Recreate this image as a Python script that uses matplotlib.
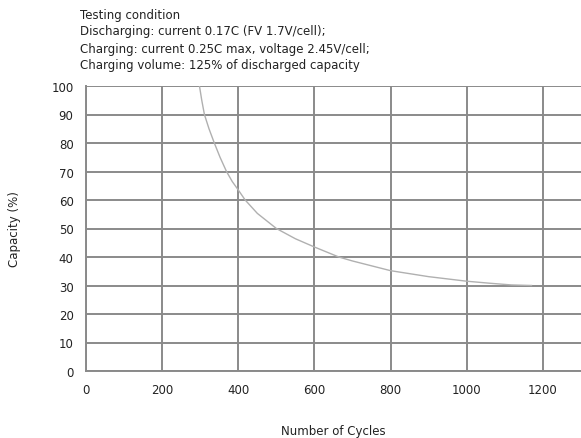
import matplotlib
matplotlib.use("Agg")
import matplotlib.pyplot as plt
import numpy as np

cycles = [298, 304, 311, 323, 337, 352, 369, 384, 400, 418, 450, 500, 550, 600, 664, 700, 800, 900, 1000, 1060, 1117, 1170]
capacity = [100, 95, 90, 85, 80, 75, 70, 66.5, 63.5, 60, 55.3, 50, 46.4, 43.5, 40, 38.6, 35.2, 33.1, 31.5, 30.8, 30.2, 30]
x_ticks = [0, 200, 400, 600, 800, 1000, 1200]
y_ticks = [0, 10, 20, 30, 40, 50, 60, 70, 80, 90, 100]
note_lines = [
    "Testing condition",
    "Discharging: current 0.17C (FV 1.7V/cell);",
    "Charging: current 0.25C max, voltage 2.45V/cell;",
    "Charging volume: 125% of discharged capacity",
]

plt.rcParams['font.family'] = ['DejaVu Sans']
fig = plt.figure(figsize=(5.81, 4.39), dpi=100)
ax = fig.add_axes([86/581, (439-372)/439, 1 - 86/581, (372-87)/439])
ax.set_xlim(0, 1300)
ax.set_ylim(0, 100)
ax.set_xticks(x_ticks)
ax.set_yticks(y_ticks)
ax.grid(True, color='#8a8a8a', linewidth=1.4)
ax.set_axisbelow(True)
for s in ['top', 'right']:
    ax.spines[s].set_visible(False)
for s in ['left', 'bottom']:
    ax.spines[s].set_color('#8a8a8a')
    ax.spines[s].set_linewidth(1.4)
ax.tick_params(length=0, labelsize=8.5, colors='#222222', pad=9)
ax.plot(cycles, capacity, color='#b0b0b0', linewidth=1.0, zorder=3)
ax.set_xlabel("Number of Cycles", fontsize=8.5, color='#222222', labelpad=20)
ax.set_ylabel("Capacity (%)", fontsize=8.5, color='#222222', labelpad=22)

for i, line in enumerate(note_lines):
    fig.text(80/581, 1 - (15 + i*17)/439, line, fontsize=8.5, color='#222222', va='center', ha='left')

fig.savefig("out.png", dpi=100)
